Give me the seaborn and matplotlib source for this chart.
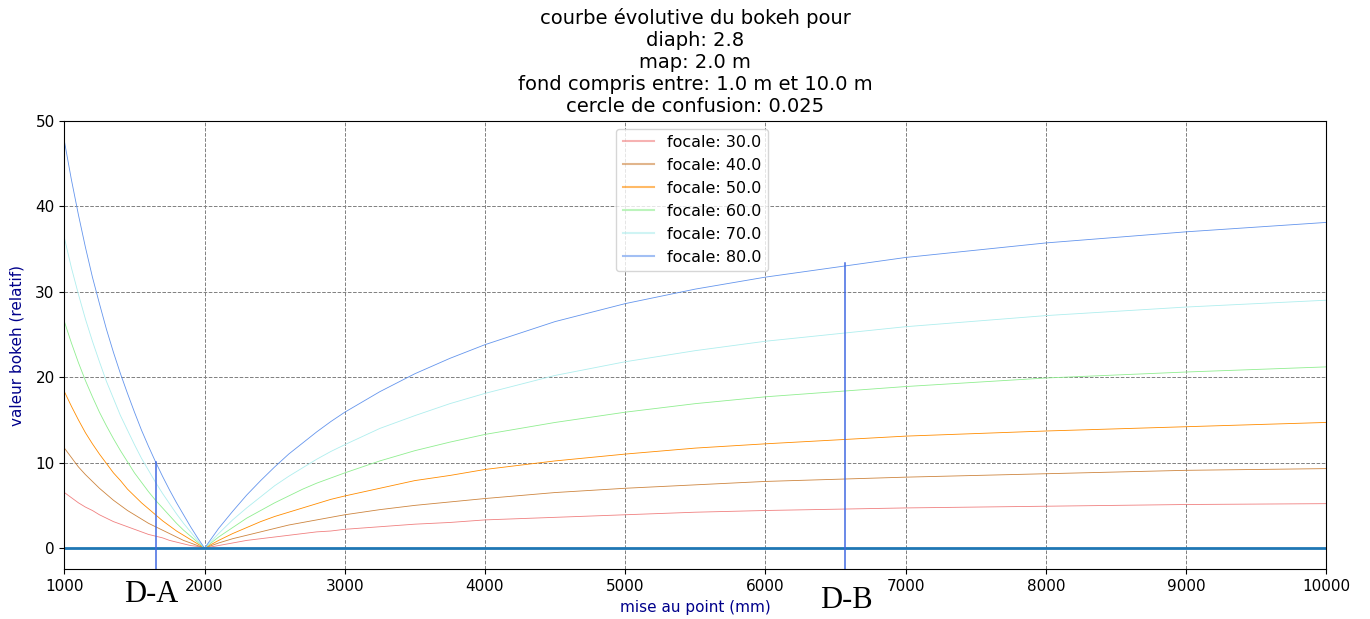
import pandas as pd
import matplotlib
matplotlib.use('Agg')
import matplotlib.pyplot as plt
import seaborn as sns

# distances (mm) where the curves were read
distance = [1000, 1050, 1100, 1150, 1200, 1250, 1300, 1350, 1400, 1450, 1500,
            1550, 1600, 1650, 1700, 1750, 1800, 1850, 1900, 1950, 2000,
            2100, 2200, 2300, 2400, 2500, 2600, 2700, 2800, 2900, 3000,
            3250, 3500, 3750, 4000, 4500, 5000, 5500, 6000, 7000, 8000, 9000, 10000]

focales = [30.0, 40.0, 50.0, 60.0, 70.0, 80.0]

bokeh_30 = [6.5, 5.9, 5.3, 4.8, 4.4, 3.9, 3.5, 3.1, 2.8, 2.5, 2.2,
            1.9, 1.6, 1.4, 1.2, 0.9, 0.7, 0.5, 0.3, 0.2, 0.0,
            0.3, 0.6, 0.9, 1.1, 1.3, 1.5, 1.7, 1.9, 2.0, 2.2,
            2.5, 2.8, 3.0, 3.3, 3.6, 3.9, 4.2, 4.4, 4.7, 4.9, 5.1, 5.2]
bokeh_40 = [11.7, 10.6, 9.5, 8.6, 7.8, 7.0, 6.3, 5.6, 5.0, 4.4, 3.9,
            3.4, 2.9, 2.5, 2.1, 1.7, 1.3, 0.9, 0.6, 0.3, 0.0,
            0.6, 1.1, 1.5, 1.9, 2.3, 2.7, 3.0, 3.3, 3.6, 3.9,
            4.5, 5.0, 5.4, 5.8, 6.5, 7.0, 7.4, 7.8, 8.3, 8.7, 9.1, 9.3]
bokeh_50 = [18.3, 16.6, 15.0, 13.5, 12.2, 11.0, 9.9, 8.8, 7.9, 6.9, 6.1,
            5.3, 4.6, 3.9, 3.2, 2.6, 2.0, 1.5, 1.0, 0.5, 0.0,
            0.9, 1.7, 2.4, 3.1, 3.7, 4.2, 4.7, 5.2, 5.7, 6.1,
            7.0, 7.9, 8.5, 9.2, 10.2, 11.0, 11.7, 12.2, 13.1, 13.7, 14.2, 14.7]
bokeh_60 = [26.5, 24.0, 21.7, 19.6, 17.7, 15.9, 14.3, 12.8, 11.4, 10.1, 8.8,
            7.7, 6.6, 5.6, 4.7, 3.8, 2.9, 2.1, 1.4, 0.7, 0.0,
            1.3, 2.4, 3.5, 4.4, 5.3, 6.1, 6.9, 7.6, 8.2, 8.8,
            10.2, 11.4, 12.4, 13.3, 14.7, 15.9, 16.9, 17.7, 18.9, 19.9, 20.6, 21.2]
bokeh_70 = [36.3, 32.8, 29.7, 26.8, 24.2, 21.8, 19.5, 17.5, 15.5, 13.8, 12.1,
            10.5, 9.1, 7.7, 6.4, 5.2, 4.0, 2.9, 1.9, 0.9, 0.0,
            1.7, 3.3, 4.7, 6.0, 7.3, 8.4, 9.4, 10.4, 11.3, 12.1,
            14.0, 15.5, 16.9, 18.1, 20.2, 21.8, 23.1, 24.2, 25.9, 27.2, 28.2, 29.0]
bokeh_80 = [47.6, 43.1, 39.0, 35.2, 31.7, 28.6, 25.6, 22.9, 20.4, 18.1, 15.9,
            13.8, 11.9, 10.1, 8.4, 6.8, 5.3, 3.9, 2.5, 1.2, 0.0,
            2.3, 4.3, 6.2, 7.9, 9.5, 11.0, 12.3, 13.6, 14.8, 15.9,
            18.3, 20.4, 22.2, 23.8, 26.5, 28.6, 30.3, 31.7, 34.0, 35.7, 37.0, 38.1]

# D-A / D-B markers: x position and top of the line
marker_x = [1650, 6570]
marker_top = [10.1, 33.3]
marker_labels = ['D-A', 'D-B']

colors = ['lightcoral', 'peru', 'darkorange', 'lightgreen', 'paleturquoise', 'cornflowerblue']

rows = []
for f, vals in zip(focales, [bokeh_30, bokeh_40, bokeh_50, bokeh_60, bokeh_70, bokeh_80]):
    for d, v in zip(distance, vals):
        rows.append({'distance': d, 'bokeh': v, 'focale': 'focale: %s' % f})
df = pd.DataFrame(rows)

fig, ax = plt.subplots(figsize=(13.7, 6.19), dpi=100)
sns.lineplot(data=df, x='distance', y='bokeh', hue='focale', palette=colors,
             linewidth=0.6, ax=ax)
ax.axhline(0, color='tab:blue', linewidth=2)
for x, top in zip(marker_x, marker_top):
    ax.plot([x, x], [-2.5, top], color='royalblue', linewidth=1.1)

ax.set_xlim(1000, 10000)
ax.set_ylim(-2.5, 50)
ax.grid(True, color='grey', linestyle='--', linewidth=0.7)
ax.tick_params(labelsize=11)
ax.set_xlabel('mise au point (mm)', color='darkblue', fontsize=11)
ax.set_ylabel('valeur bokeh (relatif)', color='darkblue', fontsize=11, labelpad=8)
ax.set_title('courbe évolutive du bokeh pour\ndiaph: 2.8\nmap: 2.0 m\n'
             'fond compris entre: 1.0 m et 10.0 m\ncercle de confusion: 0.025', fontsize=14)

leg = ax.legend(loc='upper center', fontsize=11.5, title=None, bbox_to_anchor=(0.4975, 1.0))
for line in leg.get_lines():
    line.set_linewidth(1.5)
    line.set_alpha(0.6)

for x, lab, yoff in zip([1620, 6580], marker_labels, [-0.055, -0.07]):
    ax.text(x, yoff, lab, transform=ax.get_xaxis_transform(), ha='center', va='center',
            family='Liberation Serif', fontsize=22)

plt.subplots_adjust(left=0.047, right=0.968, top=0.805, bottom=0.08)
plt.savefig('out.png')
